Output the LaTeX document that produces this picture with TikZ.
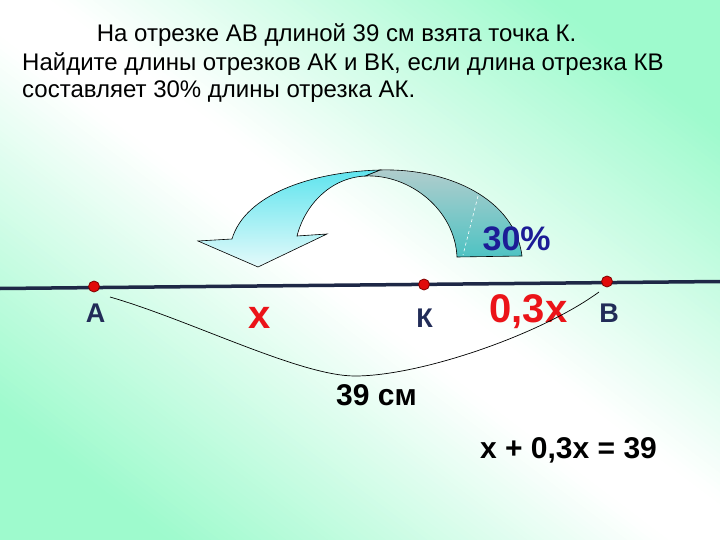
\documentclass[tikz,border=0pt]{standalone}
\usepackage{fontspec}
\setmainfont{Liberation Sans}

\definecolor{bggreen}{RGB}{158,250,205}
\definecolor{navy}{RGB}{34,44,88}
\definecolor{linenavy}{RGB}{30,40,70}
\definecolor{pctblue}{RGB}{28,28,150}
\definecolor{mred}{RGB}{235,20,25}
\definecolor{dotred}{RGB}{225,10,10}
\definecolor{cyanA}{RGB}{95,228,238}
\definecolor{cyanB}{RGB}{228,250,250}
\definecolor{tealA}{RGB}{178,205,205}
\definecolor{tealB}{RGB}{78,195,195}

\tikzset{
  pt/.style={circle,fill=dotred,draw=red!50!black,line width=0.8pt,inner sep=0pt,minimum size=11pt},
  ptlabel/.style={anchor=base,text=navy,font=\fontsize{27}{30}\selectfont\bfseries},
  redlabel/.style={anchor=base,text=mred,font=\fontsize{40}{44}\selectfont\bfseries},
  titleline/.style={anchor=base west,inner sep=0pt,font=\fontsize{24}{28}\selectfont},
  bigtext/.style={anchor=base,font=\fontsize{30}{34}\selectfont\bfseries},
}

\begin{document}
\begin{tikzpicture}[x=1pt,y=-1pt]
    % background: white along the diagonal, green towards two corners
    \begin{scope}[y=1pt]
        \clip (0,-540) rectangle (720,0);
        \begin{scope}[shift={(360,-270)},rotate=-37]
            \foreach \s in {-450,-445,...,445}
            {\pgfmathsetmacro\p{min(100,max(0,abs(\s+2.5)-30)/3)}
            \fill[bggreen!\p!white] (-500,\s) rectangle (500,\s+5.6);}
        \end{scope}
    \end{scope}
    \useasboundingbox (0,0) rectangle (720,540);

    \node[titleline] (title1) at (96.7,41.7) {На отрезке АВ длиной 39 см взята точка К.};
    \node[titleline] (title2) at (22,70.7) {Найдите длины отрезков АК и ВК, если длина отрезка КВ};
    \node[titleline] (title3) at (22,97.3) {составляет 30\% длины отрезка АК.};

    % curved arrow: back part, then front part with the head
    \shade[top color=tealA,bottom color=tealB,draw=black,line width=0.6pt]
        (380,170) .. controls (450,168) and (515,200) .. (522,256) -- (457,257)
        .. controls (455,210) and (410,174) .. (365,176) -- cycle;
    \draw[white,dashed,line width=0.6pt] (478,196) -- (463,255);
    \shade[top color=cyanA,bottom color=cyanB,draw=black,line width=0.6pt]
        (380,170) .. controls (310,172) and (245,195) .. (232,239) -- (198,241)
        -- (258,267) -- (327,234) -- (297,236)
        .. controls (305,205) and (330,178) .. (365,176) -- cycle;
    \node[anchor=base,text=pctblue,font=\fontsize{34}{38}\selectfont\bfseries] (pct) at (516.7,251) {30\%};

    % the segment
    \coordinate (lineL) at (0,288.5);
    \coordinate (lineR) at (720,281.5);
    \draw[linenavy,line width=3.5pt] (lineL) -- (lineR);
    \node[pt] (ptA) at (94,286.5) {};
    \node[pt] (ptK) at (424,284.5) {};
    \node[pt] (ptB) at (607,281.5) {};

    \node[ptlabel] (lblA) at (95.5,322) {А};
    \node[ptlabel] (lblK) at (424.5,327) {К};
    \node[ptlabel] (lblB) at (609,322) {В};
    \node[redlabel] (lblx) at (259.5,328) {х};
    \node[redlabel] (lblkb) at (528.5,322) {0,3х};

    % brace under AB
    \coordinate (arcL) at (110,297);
    \coordinate (arcR) at (599,292);
    \draw[line width=0.7pt] (arcL) .. controls (190,320) and (300,376) .. (355,376)
        .. controls (420,376) and (540,335) .. (arcR);
    \node[bigtext] (len) at (376.5,405) {39 см};
    \node[bigtext] (eqn) at (568.5,458) {х + 0,3х = 39};
\end{tikzpicture}
\end{document}
